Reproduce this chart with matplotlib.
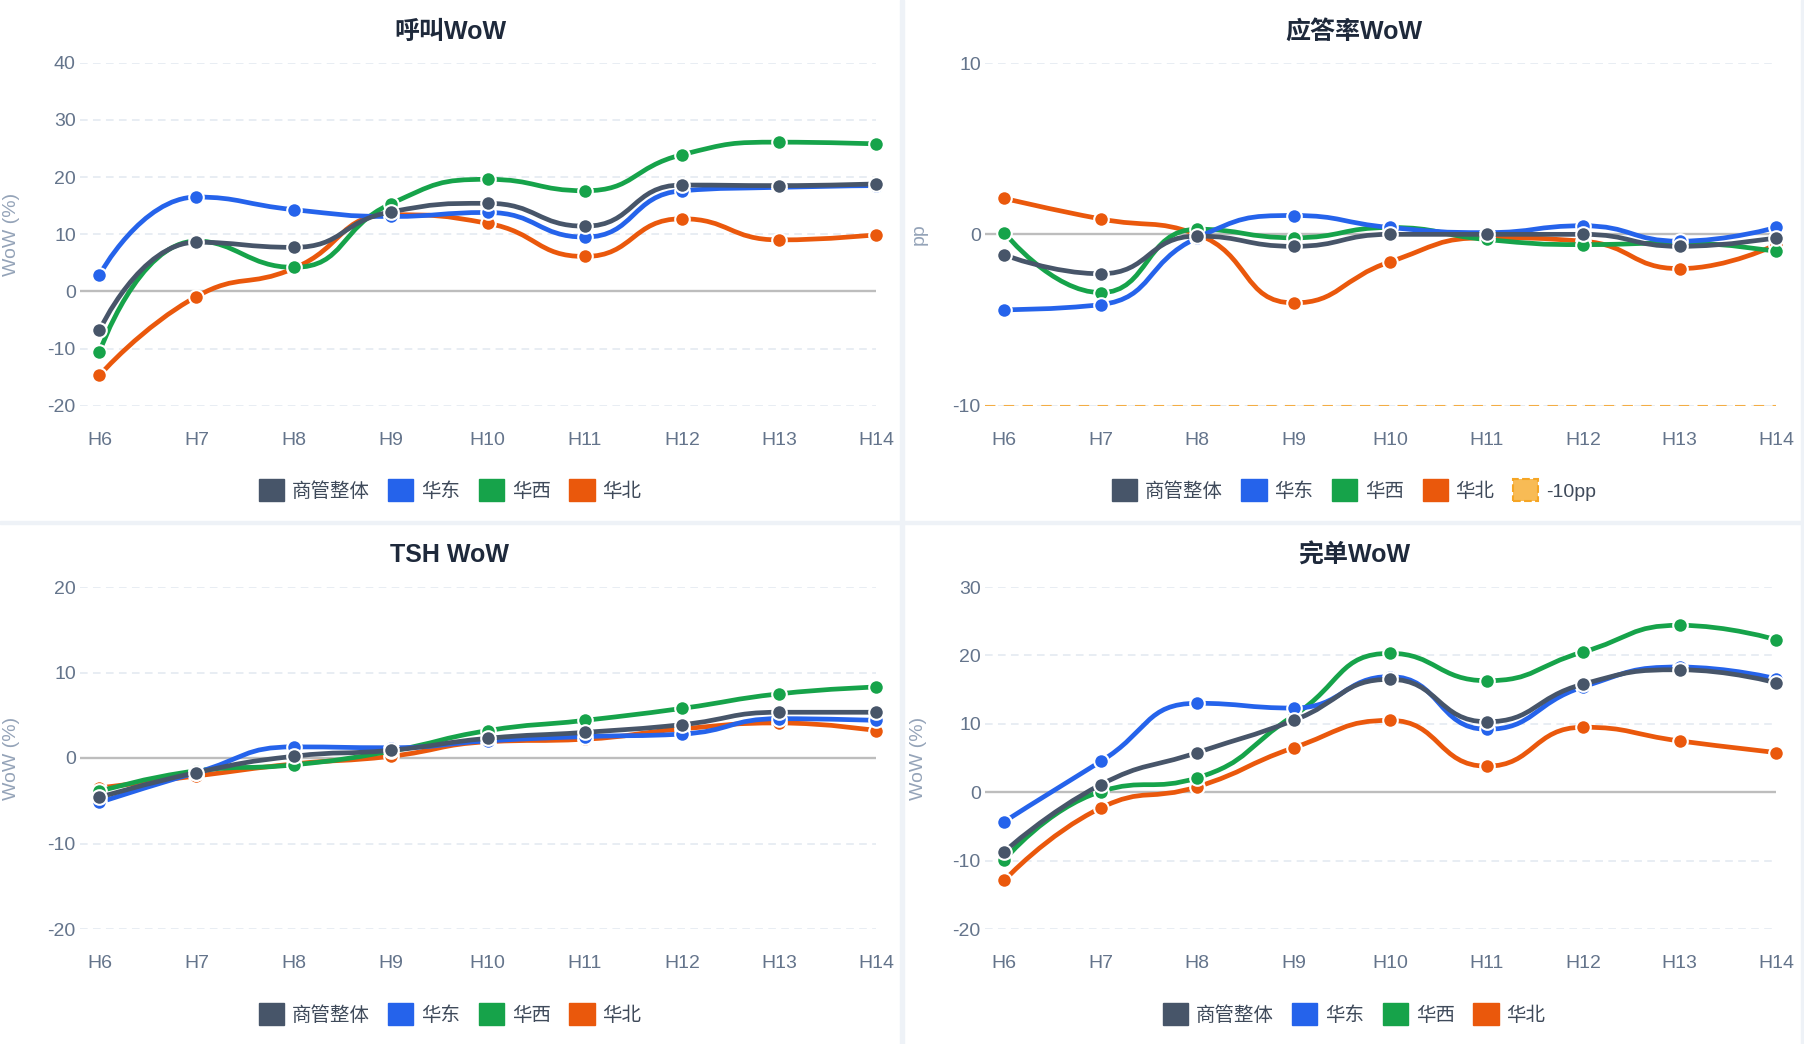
import numpy as np
import matplotlib
matplotlib.use('Agg')
import matplotlib.pyplot as plt
from matplotlib.path import Path
from matplotlib.patches import PathPatch, Patch, Rectangle

plt.rcParams['font.family'] = ['Liberation Sans', 'Noto Sans CJK SC', 'DejaVu Sans']

W, H = 1804, 1044

hours = ['H6', 'H7', 'H8', 'H9', 'H10', 'H11', 'H12', 'H13', 'H14']
series_names = ['商管整体', '华东', '华西', '华北']
series_colors = ['#475569', '#2563eb', '#16a34a', '#ea580c']

# 呼叫WoW (%)
call_overall = [-6.8, 8.6, 7.7, 13.9, 15.4, 11.4, 18.6, 18.5, 18.8]
call_east = [2.9, 16.5, 14.3, 13.1, 13.8, 9.5, 17.6, 18.2, 18.5]
call_west = [-10.6, 8.8, 4.2, 15.3, 19.6, 17.6, 23.9, 26.1, 25.8]
call_north = [-14.7, -0.9, 4.0, 13.4, 11.9, 6.1, 12.7, 9.0, 9.9]

# 应答率WoW (pp)
answer_overall = [-1.2, -2.3, -0.1, -0.7, 0.0, 0.0, 0.0, -0.7, -0.2]
answer_east = [-4.4, -4.1, -0.2, 1.1, 0.4, 0.1, 0.5, -0.4, 0.4]
answer_west = [0.1, -3.4, 0.3, -0.2, 0.4, -0.3, -0.6, -0.5, -1.0]
answer_north = [2.1, 0.9, 0.0, -4.0, -1.6, -0.2, -0.4, -2.0, -0.6]
answer_threshold = -10

# TSH WoW (%)
tsh_overall = [-4.6, -1.7, 0.2, 0.9, 2.3, 3.0, 3.9, 5.35, 5.35]
tsh_east = [-5.2, -1.7, 1.3, 1.2, 2.0, 2.5, 2.8, 4.6, 4.4]
tsh_west = [-3.9, -1.5, -0.8, 0.8, 3.2, 4.4, 5.8, 7.5, 8.3]
tsh_north = [-3.5, -2.1, -0.7, 0.2, 1.9, 2.2, 3.4, 4.1, 3.2]

# 完单WoW (%)
done_overall = [-8.7, 1.1, 5.8, 10.5, 16.5, 10.3, 15.8, 17.9, 16.0]
done_east = [-4.3, 4.5, 13.0, 12.3, 16.9, 9.2, 15.4, 18.3, 16.6]
done_west = [-9.9, 0.1, 2.1, 11.2, 20.3, 16.3, 20.5, 24.4, 22.3]
done_north = [-12.9, -2.3, 0.8, 6.5, 10.5, 3.8, 9.5, 7.5, 5.8]


def px_rect(left, top, right, bottom):
    return [left / W, 1 - bottom / H, (right - left) / W, (bottom - top) / H]


def smooth_path(ax, xs, ys, smooth=0.5):
    # bezier control points like echarts' smoothed line (computed in pixel space)
    pts = ax.transData.transform(np.column_stack([xs, ys]))
    verts = [tuple(pts[0])]
    codes = [Path.MOVETO]
    cp0 = tuple(pts[0])
    n = len(pts)
    for i in range(1, n):
        x, y = pts[i]
        px, py = pts[i - 1]
        if i == n - 1:
            cp1 = (x, y)
            next_cp0 = None
        else:
            nx, ny = pts[i + 1]
            vx, vy = nx - px, ny - py
            len_prev = np.hypot(x - px, y - py)
            len_next = np.hypot(nx - x, ny - y)
            ratio = len_next / (len_next + len_prev)
            ncx = x + vx * smooth * ratio
            ncy = y + vy * smooth * ratio
            ncx = max(min(ncx, max(nx, x)), min(nx, x))
            ncy = max(min(ncy, max(ny, y)), min(ny, y))
            vx, vy = ncx - x, ncy - y
            c1x = x - vx * len_prev / len_next
            c1y = y - vy * len_prev / len_next
            c1x = max(min(c1x, max(px, x)), min(px, x))
            c1y = max(min(c1y, max(py, y)), min(py, y))
            vx, vy = x - c1x, y - c1y
            ncx = x + vx * len_next / len_prev
            ncy = y + vy * len_next / len_prev
            cp1 = (c1x, c1y)
            next_cp0 = (ncx, ncy)
        verts += [cp0, cp1, (x, y)]
        codes += [Path.CURVE4] * 3
        cp0 = next_cp0
    verts = ax.transData.inverted().transform(np.array(verts))
    return Path(verts, codes)


def draw_panel(ax, title, title_xy, data, yticks, ylabel, ylabel_x, legend_xy, threshold=None):
    ax.set_xlim(-0.2, len(hours) - 1)
    ax.set_ylim(yticks[0], yticks[-1])
    ax.set_axisbelow(True)
    for s in ax.spines.values():
        s.set_visible(False)
    ax.set_xticks(range(len(hours)))
    ax.set_xticklabels(hours)
    ax.set_yticks(yticks)
    ax.set_yticklabels([str(v) for v in yticks])
    ax.tick_params(axis='x', length=0, pad=19, labelsize=14, colors='#64748b')
    ax.tick_params(axis='y', length=0, pad=3, labelsize=14, colors='#64748b')
    ax.grid(axis='y', color='#e2e8f0', lw=1.1, ls=(0, (5, 3.5)))
    ax.grid(axis='x', visible=False)
    ax.axhline(0, color='#bdbdbd', lw=1.7, zorder=1.2)

    if threshold is not None:
        ax.axhline(threshold, color='#f3ad45', lw=1.5, ls=(0, (5, 4)), zorder=1.5)

    xs = np.arange(len(hours))
    # 商管整体 drawn last so it sits on top
    order = [3, 2, 1, 0]
    for k, i in enumerate(order):
        path = smooth_path(ax, xs, data[i])
        ax.add_patch(PathPatch(path, fill=False, edgecolor=series_colors[i], lw=3.4,
                               capstyle='round', joinstyle='round', clip_on=False, zorder=2 + 2 * k))
        ax.plot(xs, data[i], 'o', ms=10.5, mfc=series_colors[i], mec='white', mew=1.5,
                clip_on=False, zorder=3 + 2 * k)

    fig.text(title_xy[0] / W, 1 - title_xy[1] / H, title, ha='center', va='center',
             fontsize=18, fontweight='bold', color='#1e293b')

    ax.set_ylabel(ylabel, fontsize=14, color='#94a3b8')
    ax.yaxis.set_label_coords(ylabel_x, 0.5)

    handles = [Patch(facecolor=c, edgecolor=c, label=n) for n, c in zip(series_names, series_colors)]
    if threshold is not None:
        handles.append(Patch(facecolor='#f8bb55', edgecolor='#f5a524', lw=1.5, ls='--', label='-10pp'))
    leg = ax.legend(handles=handles, loc='center', bbox_to_anchor=(legend_xy[0] / W, 1 - legend_xy[1] / H),
                    bbox_transform=fig.transFigure, ncol=len(handles), frameon=False, fontsize=14,
                    handlelength=1.3, handleheight=1.3, handletextpad=0.4, columnspacing=0.95,
                    borderaxespad=0)
    for t in leg.get_texts():
        t.set_color('#3f4a5a')


fig = plt.figure(figsize=(W / 100, H / 100), dpi=100)
fig.patch.set_facecolor('white')

# panel separators
fig.patches.append(Rectangle((900 / W, 0), 4 / W, 1, transform=fig.transFigure, color='#eef2f7', zorder=0))
fig.patches.append(Rectangle((0, 1 - 524 / H), 1, 3 / H, transform=fig.transFigure, color='#eef2f7', zorder=0))
fig.patches.append(Rectangle((1801 / W, 0), 3 / W, 1, transform=fig.transFigure, color='#eef2f7', zorder=0))

ax1 = fig.add_axes(px_rect(80, 62.7, 876, 405.7))
ax2 = fig.add_axes(px_rect(985, 63, 1776, 405.7))
ax3 = fig.add_axes(px_rect(80, 587, 876, 929))
ax4 = fig.add_axes(px_rect(985, 587, 1776, 929))
for ax in (ax1, ax2, ax3, ax4):
    ax.set_facecolor('none')

draw_panel(ax1, '呼叫WoW', (450, 31.6), [call_overall, call_east, call_west, call_north],
           [-20, -10, 0, 10, 20, 30, 40], 'WoW (%)', -0.075, (450, 490))
draw_panel(ax2, '应答率WoW', (1354, 31.6), [answer_overall, answer_east, answer_west, answer_north],
           [-10, 0, 10], 'pp', -0.073, (1354, 490), threshold=answer_threshold)
draw_panel(ax3, 'TSH WoW', (450, 555.3), [tsh_overall, tsh_east, tsh_west, tsh_north],
           [-20, -10, 0, 10, 20], 'WoW (%)', -0.075, (450, 1014))
draw_panel(ax4, '完单WoW', (1354, 555.3), [done_overall, done_east, done_west, done_north],
           [-20, -10, 0, 10, 20, 30], 'WoW (%)', -0.073, (1354, 1014))

fig.savefig('out.png', dpi=100)
